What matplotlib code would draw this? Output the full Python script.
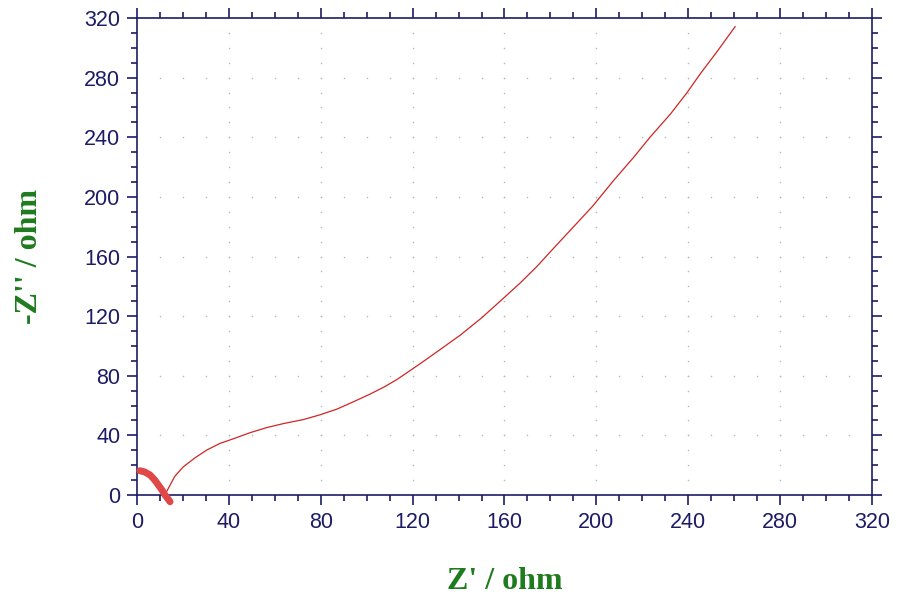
import numpy as np
import matplotlib
matplotlib.use("Agg")
import matplotlib.pyplot as plt
from matplotlib.ticker import MultipleLocator

# Data
thick_x = [1.3, 3.5, 5.7, 7.6, 9.3, 10.9, 12.2, 13.4, 14.4]
thick_y = [16.3, 15.4, 13.4, 10.3, 6.7, 3.3, 0.0, -2.4, -4.5]

thin_x = [12.1, 16.4, 20.1, 25.2, 30.3, 36.1, 41.9, 49.2, 56.4, 63.7, 72.4, 79.7,
          87.0, 94.3, 101.6, 107.4, 113.2, 123.2, 131.9, 140.7, 150.1, 158.1,
          166.8, 174.1, 181.4, 190.1, 198.5, 207.5, 216.2, 223.5, 232.2, 239.4,
          245.2, 252.5, 260.4]
thin_y = [0.0, 12.4, 18.8, 24.9, 30.1, 34.6, 37.7, 41.8, 45.2, 47.9, 50.6, 53.8,
          57.6, 62.6, 67.8, 72.3, 77.5, 88.0, 97.5, 107.2, 118.9, 130.0,
          142.2, 153.3, 165.6, 180.0, 194.0, 211.0, 226.5, 240.3, 255.5, 269.8,
          282.5, 297.4, 314.2]

major_ticks = [0, 40, 80, 120, 160, 200, 240, 280, 320]
x_label = "Z' / ohm"
y_label = "-Z'' / ohm"

navy = "#1c1c66"
green = "#1e7b1e"

fig = plt.figure(figsize=(9, 6.15), dpi=100)
ax = fig.add_axes([0.1522, 0.1951, 0.8167, 0.7756])

ax.set_xlim(0, 320)
ax.set_ylim(0, 320)

# dotted grid: dots at minor positions along major lines
minor = np.arange(10, 320, 10)
gx, gy = [], []
for m in major_ticks[1:-1]:
    for v in minor:
        gx.append(m); gy.append(v)
        gx.append(v); gy.append(m)
ax.scatter(gx, gy, s=1.2, color="#b8b8b8", linewidths=0, zorder=1)

ax.plot(thin_x, thin_y, color="#d02525", lw=0.9, zorder=3)
ax.plot(thick_x, thick_y, color="#e04848", lw=5, solid_capstyle="round", zorder=4, clip_on=False)

ax.xaxis.set_major_locator(MultipleLocator(40))
ax.yaxis.set_major_locator(MultipleLocator(40))
ax.xaxis.set_minor_locator(MultipleLocator(10))
ax.yaxis.set_minor_locator(MultipleLocator(10))
ax.tick_params(which="both", direction="out", top=True, right=True, color=navy, width=1.2)
ax.tick_params(which="major", length=7)
ax.tick_params(which="minor", length=4)
ax.tick_params(labelsize=15.5, labelcolor=navy, pad=5)
for lab in ax.get_xticklabels() + ax.get_yticklabels():
    lab.set_family("Liberation Sans")

for s in ax.spines.values():
    s.set_color(navy)
    s.set_linewidth(1.2)

ax.set_xlabel(x_label, family="Liberation Serif", fontweight="bold", fontsize=23, color=green, labelpad=25)
ax.set_ylabel(y_label, family="Liberation Serif", fontweight="bold", fontsize=23, color=green, labelpad=29)

fig.savefig("out.png", dpi=100)
